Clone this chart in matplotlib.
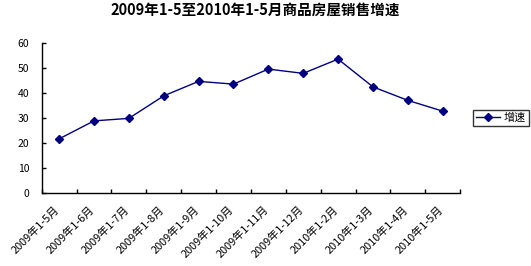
import matplotlib
matplotlib.use("Agg")
import matplotlib.pyplot as plt
import matplotlib.transforms as mtransforms
import numpy as np

plt.rcParams['font.family'] = ['Noto Sans CJK SC', 'DejaVu Sans']

# 各月累计商品房屋销售增速(%)
periods = ["2009年1-5月", "2009年1-6月", "2009年1-7月", "2009年1-8月",
           "2009年1-9月", "2009年1-10月", "2009年1-11月", "2009年1-12月",
           "2010年1-2月", "2010年1-3月", "2010年1-4月", "2010年1-5月"]
growth = [21.8, 29.0, 30.0, 39.0, 44.8, 43.7, 49.7, 48.0, 53.7, 42.6, 37.2, 32.9]

navy = '#000080'

fig = plt.figure(figsize=(5.31, 2.66), dpi=100)
ax = fig.add_axes([0.0785, 0.273, 0.788, 0.564])

x = np.arange(len(periods))
ax.plot(x, growth, color=navy, lw=1, marker='D', ms=4.3, label='增速')

ax.set_xlim(-0.5, len(periods) - 0.5)
ax.set_ylim(0, 60)
ax.set_yticks(range(0, 61, 10))
ax.tick_params(axis='y', direction='in', length=3, width=1, labelsize=7.5, pad=9)

# ticks between categories, labels at the centres
ax.set_xticks(np.arange(-0.5, len(periods), 1))
ax.set_xticklabels([])
ax.set_xticks(x, minor=True)
ax.set_xticklabels(periods, minor=True, rotation=45, ha='right', va='top',
                   rotation_mode='anchor', fontsize=7.9)
ax.tick_params(axis='x', which='major', direction='in', length=3, width=1)
ax.tick_params(axis='x', which='minor', length=0, pad=8)
shift = mtransforms.ScaledTranslation(-5 / 100, 0, fig.dpi_scale_trans)
for lab in ax.get_xticklabels(minor=True):
    lab.set_transform(lab.get_transform() + shift)

for s in ['top', 'right']:
    ax.spines[s].set_visible(False)
for s in ['left', 'bottom']:
    ax.spines[s].set_linewidth(1)
    ax.spines[s].set_color('black')

fig.text(0.48, 0.962, "2009年1-5至2010年1-5月商品房屋销售增速", ha='center', va='center',
         fontsize=10.5, fontweight='bold')

leg = fig.legend(loc='center', bbox_to_anchor=(0.9434, 0.556), fontsize=8,
                 frameon=True, fancybox=False, handlelength=2.2, handletextpad=0.3,
                 borderpad=0.25, borderaxespad=0)
leg.get_frame().set_edgecolor('black')
leg.get_frame().set_linewidth(1)

fig.savefig("out.png", dpi=100)
